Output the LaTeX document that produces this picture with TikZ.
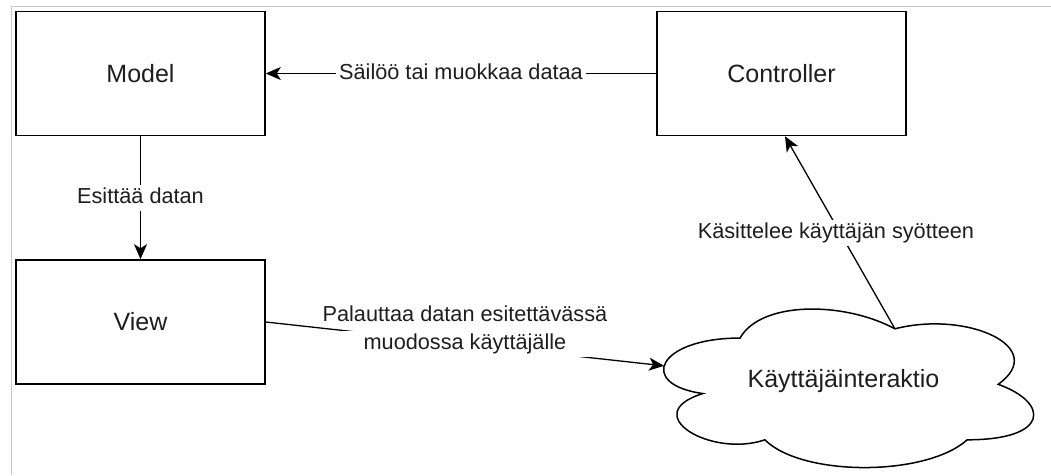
\documentclass[tikz,border=0pt]{standalone}
\usepackage{fontspec}
\setmainfont{Liberation Sans}
\usetikzlibrary{arrows.meta,calc}
\definecolor{framegray}{HTML}{C8C8C8}
\definecolor{ink}{HTML}{1E1E1E}
\begin{document}
\begin{tikzpicture}[x=1pt,y=-1pt,
  box/.style={draw=black, line width=1.6pt, minimum width=249pt,
    minimum height=124pt, inner sep=0pt, text=ink,
    font=\fontsize{25}{30}\selectfont},
  conn/.style={draw=black, line width=1.3pt},
  tip/.style={-{Stealth[length=15pt,width=13pt,inset=4pt]}},
  elabel/.style={fill=white, text=ink, inner xsep=3pt, inner ysep=2pt,
    text height=17pt, text depth=5pt, align=center,
    font=\fontsize{21.7}{28}\selectfont},
  cloudline/.style={draw=black, line width=1.5pt, fill=white},
]
% page area and the thin frame along the top and left
\useasboundingbox (0,0) rectangle (1051,475);
\draw[framegray, line width=1pt] (11,475) -- (11,6) -- (1051,6);

% boxes
\node[box] (model) at (140.5,73.5) {Model};
\node[box] (view) at (140.5,322) {View};
\node[box] (ctrl) at (781.5,73.5) {Controller};

% cloud with its label
\node[minimum width=413pt, minimum height=185pt, inner sep=0pt, text=ink,
  font=\fontsize{25}{30}\selectfont] (cloud) at (843.5,384.5) {};
\begin{scope}[shift={(cloud.north west)}, x={(413pt,0pt)}, y={(0pt,-185pt)}]
  \path[cloudline] (0.25,0.25)
    .. controls (0.05,0.25) and (0,0.5) .. (0.16,0.55)
    .. controls (0,0.66) and (0.18,0.9) .. (0.31,0.8)
    .. controls (0.4,1) and (0.7,1) .. (0.8,0.8)
    .. controls (1,0.8) and (1,0.6) .. (0.875,0.5)
    .. controls (1,0.3) and (0.8,0.1) .. (0.625,0.2)
    .. controls (0.5,0.05) and (0.3,0.05) .. (0.25,0.25) -- cycle;
  \coordinate (cloudL) at (0.066,0.40);
  \coordinate (cloudT) at (0.625,0.2);
\end{scope}
\node[text=ink, font=\fontsize{25}{30}\selectfont] (cloudtext) at (843.5,381) {Käyttäjäinteraktio};

% connectors
\draw[conn, tip] (ctrl.west) -- node[elabel] {Säilöö tai muokkaa dataa} (model.east);
\draw[conn, tip] (model.south) -- node[elabel] {Esittää datan} (view.north);
\draw[conn, tip] (view.east) -- node[elabel] {Palauttaa datan esitettävässä\\muodossa käyttäjälle} (cloudL);
\draw[conn, tip] (cloudT) -- node[elabel, xshift=-4pt] {Käsittelee käyttäjän syötteen} ($(ctrl.south)+(3.5,0)$);
\end{tikzpicture}
\end{document}
